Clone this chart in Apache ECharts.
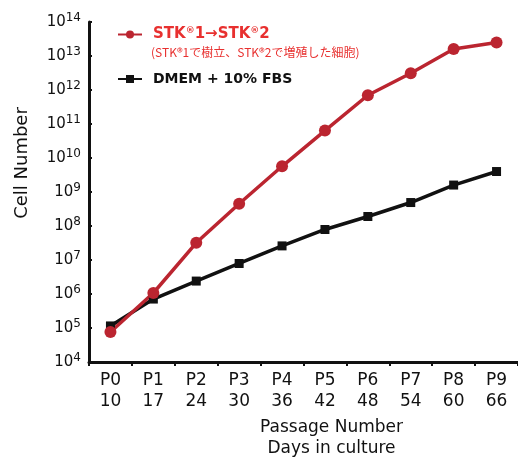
<!DOCTYPE html>
<html>
<head>
<meta charset="utf-8">
<script src="https://cdn.jsdelivr.net/npm/echarts@6/dist/echarts.min.js"></script>
<style>
  html, body { margin: 0; padding: 0; background: #fff; }
  #chart { width: 518px; height: 464px; }
</style>
</head>
<body>
<div id="chart"></div>
<script>
// passage / days
const passages = ['P0', 'P1', 'P2', 'P3', 'P4', 'P5', 'P6', 'P7', 'P8', 'P9']
const days = [10, 17, 24, 30, 36, 42, 48, 54, 60, 66]
// cell numbers
const stkValues = [7.6e4, 1.07e6, 3.2e7, 4.5e8, 5.7e9, 6.4e10, 7e11, 3.1e12, 1.6e13, 2.5e13]
const dmemValues = [1.15e5, 7.1e5, 2.4e6, 7.9e6, 2.6e7, 7.9e7, 1.9e8, 4.9e8, 1.6e9, 4e9]

const stkName = 'STK®1→STK®2'
const dmemName = 'DMEM + 10% FBS'
const stkNote = '(STK®1で樹立、STK®2で増殖した細胞)'

const categories = passages.map((p, i) => p + '\n' + days[i])
const font = '"DejaVu Sans", Verdana, sans-serif'
const red = '#bb2530'

const chart = echarts.init(document.getElementById('chart'))
chart.setOption({
  animation: false,
  textStyle: { fontFamily: font },
  grid: { left: 89, right: 0, top: 22, bottom: 102, containLabel: false, outerBoundsMode: 'none' },
  legend: {
    orient: 'vertical',
    left: 117,
    top: 26,
    padding: 0,
    itemWidth: 24,
    itemHeight: 10,
    itemGap: 30,
    data: [stkName, dmemName],
    formatter: name => name === stkName ? '{a|STK}{r|®}{a|1→STK}{r|®}{a|2}' : name,
    textStyle: {
      fontSize: 14,
      fontWeight: 'bold',
      color: '#111',
      padding: [0, 0, 0, 6],
      rich: {
        a: { fontSize: 15, fontWeight: 'bold', color: '#e8302f', fontFamily: font },
        r: { fontSize: 9, fontWeight: 'bold', color: '#e8302f', verticalAlign: 'top', padding: [0, 0, 8, 0], fontFamily: font }
      }
    }
  },
  graphic: [{
    type: 'text',
    left: 151,
    top: 46,
    style: {
      text: stkNote,
      fontSize: 12,
      fill: '#e8302f',
      fontFamily: '"Noto Sans CJK JP", ' + font
    }
  }],
  xAxis: {
    type: 'category',
    data: categories,
    boundaryGap: true,
    axisLine: { lineStyle: { color: '#111', width: 3 } },
    axisTick: { show: true, length: 4, lineStyle: { color: '#111', width: 2 } },
    axisLabel: { fontSize: 17, color: '#111', lineHeight: 21, margin: 8, interval: 0 },
    name: 'Passage Number\nDays in culture',
    nameLocation: 'middle',
    nameGap: 55,
    nameTextStyle: { fontSize: 17, color: '#111', lineHeight: 21, padding: [0, 0, 0, 56] }
  },
  yAxis: {
    type: 'log',
    logBase: 10,
    min: 1e4,
    max: 1e14,
    interval: 1,
    splitLine: { show: false },
    axisLine: { show: true, lineStyle: { color: '#111', width: 3 } },
    axisTick: { show: true, inside: true, length: 3, lineStyle: { color: '#111', width: 2 } },
    axisLabel: {
      color: '#111',
      margin: 8,
      formatter: v => '{b|10}{s|' + Math.round(Math.log10(v)) + '}',
      rich: {
        b: { fontSize: 15, color: '#111', fontFamily: font },
        s: { fontSize: 12, color: '#111', verticalAlign: 'top', padding: [0, 0, 8, 0], fontFamily: font }
      }
    },
    name: 'Cell Number',
    nameLocation: 'middle',
    nameGap: 58,
    nameTextStyle: { fontSize: 18, color: '#111', padding: [0, 0, 0, 58] }
  },
  series: [
    {
      name: dmemName,
      type: 'line',
      data: dmemValues,
      symbol: 'rect',
      symbolSize: 9,
      lineStyle: { color: '#111', width: 3.5 },
      itemStyle: { color: '#111' }
    },
    {
      name: stkName,
      type: 'line',
      data: stkValues,
      symbol: 'circle',
      symbolSize: 12,
      lineStyle: { color: red, width: 3.5 },
      itemStyle: { color: red }
    }
  ]
})
</script>
</body>
</html>
